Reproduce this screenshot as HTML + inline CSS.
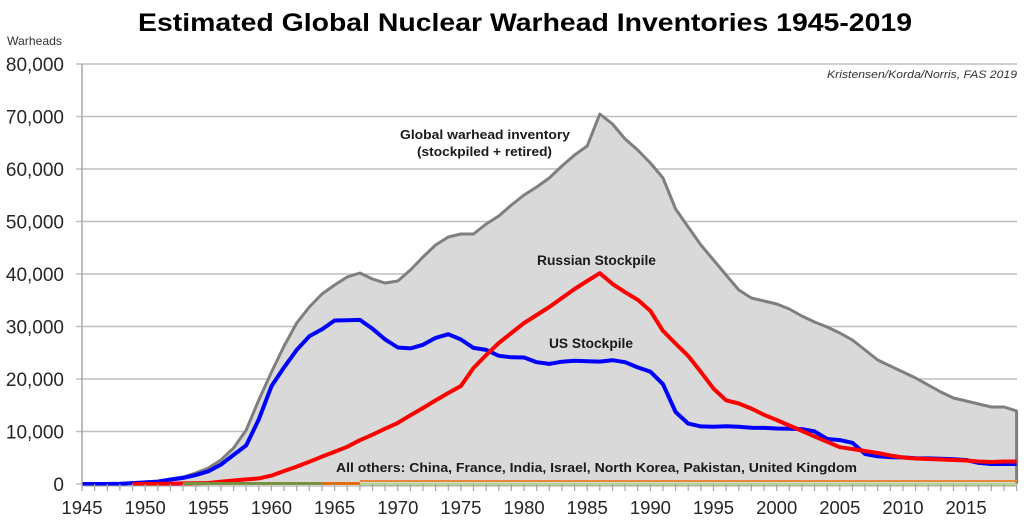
<!DOCTYPE html>
<html><head><meta charset="utf-8">
<style>
html,body{margin:0;padding:0;background:#fff;}
svg{display:block;}
text{font-family:"Liberation Sans",Arial,sans-serif;}
</style></head>
<body>
<svg width="1024" height="522" viewBox="0 0 1024 522" xmlns="http://www.w3.org/2000/svg">
<rect width="1024" height="522" fill="#fff"/>
<!-- title -->
<text x="138" y="31" font-size="25" font-weight="bold" fill="#000" textLength="774" lengthAdjust="spacingAndGlyphs">Estimated Global Nuclear Warhead Inventories 1945-2019</text>
<text x="7" y="45" font-size="12" fill="#333" textLength="55" lengthAdjust="spacingAndGlyphs">Warheads</text>

<!-- gridlines -->
<g stroke="#bfbfbf" stroke-width="1.5">
<line x1="76" y1="431.5" x2="1017" y2="431.5"/>
<line x1="76" y1="379" x2="1017" y2="379"/>
<line x1="76" y1="326.5" x2="1017" y2="326.5"/>
<line x1="76" y1="274" x2="1017" y2="274"/>
<line x1="76" y1="221.5" x2="1017" y2="221.5"/>
<line x1="76" y1="169" x2="1017" y2="169"/>
<line x1="76" y1="116.5" x2="1017" y2="116.5"/>
<line x1="76" y1="64" x2="1017" y2="64"/>
<line x1="76" y1="484" x2="82" y2="484"/>
</g>

<!-- y labels -->
<g font-size="19" fill="#262626" text-anchor="end">
<text x="64" y="491">0</text>
<text x="64" y="438.5">10,000</text>
<text x="64" y="386">20,000</text>
<text x="64" y="333.5">30,000</text>
<text x="64" y="281">40,000</text>
<text x="64" y="228.5">50,000</text>
<text x="64" y="176">60,000</text>
<text x="64" y="123.5">70,000</text>
<text x="64" y="71">80,000</text>
</g>

<!-- global area -->
<polygon fill="#d9d9d9" points="82,484 94.6,484 107.3,484 119.9,483.7 132.5,483 145.2,482 157.8,481 170.4,479 183,477 195.7,473 208.3,468 220.9,460 233.6,448 246.2,430 258.8,400 271.5,372 284.1,346 296.7,323 309.3,307 322,294 334.6,285 347.2,277 359.9,273 372.5,279 385.1,283 397.8,281 410.4,270 423,257 435.6,245 448.3,237 460.9,234 473.5,234 486.2,224 498.8,216 511.4,205 524.1,195 536.7,187 549.3,178 561.9,166 574.6,155 587.2,146 599.8,114 612.5,124 625.1,139 637.7,150 650.4,163 663,178 675.6,209 688.2,227 700.9,245 713.5,260 726.1,275 738.8,290 751.4,298 764,301 776.7,304 789.3,309 801.9,316 814.5,322 827.2,327 839.8,333 852.4,340 865.1,350 877.7,360 890.3,366 903,372 915.6,378 928.2,385 940.8,392 953.5,398 966.1,401 978.7,404 991.4,407 1004,407 1016.6,411 1016.6,484"/>
<polyline fill="none" stroke="#7f7f7f" stroke-width="3" stroke-linejoin="round" points="82,484 94.6,484 107.3,484 119.9,483.7 132.5,483 145.2,482 157.8,481 170.4,479 183,477 195.7,473 208.3,468 220.9,460 233.6,448 246.2,430 258.8,400 271.5,372 284.1,346 296.7,323 309.3,307 322,294 334.6,285 347.2,277 359.9,273 372.5,279 385.1,283 397.8,281 410.4,270 423,257 435.6,245 448.3,237 460.9,234 473.5,234 486.2,224 498.8,216 511.4,205 524.1,195 536.7,187 549.3,178 561.9,166 574.6,155 587.2,146 599.8,114 612.5,124 625.1,139 637.7,150 650.4,163 663,178 675.6,209 688.2,227 700.9,245 713.5,260 726.1,275 738.8,290 751.4,298 764,301 776.7,304 789.3,309 801.9,316 814.5,322 827.2,327 839.8,333 852.4,340 865.1,350 877.7,360 890.3,366 903,372 915.6,378 928.2,385 940.8,392 953.5,398 966.1,401 978.7,404 991.4,407 1004,407 1016.6,411 1016.6,484"/>

<!-- US -->
<polyline fill="none" stroke="#0000ff" stroke-width="4" stroke-linejoin="round" points="82,484 94.6,484 107.3,484 119.9,483.8 132.5,483.1 145.2,482.4 157.8,481.7 170.4,479.6 183,477.9 195.7,475.1 208.3,471.3 220.9,464.6 233.6,454.9 246.2,445.4 258.8,419.4 271.5,386.1 284.1,367.3 296.7,349.9 309.3,336.3 322,329.3 334.6,320.5 347.2,320.3 359.9,319.9 372.5,328.8 385.1,339.4 397.8,347.5 410.4,348.4 423,344.8 435.6,337.9 448.3,334.2 460.9,339.5 473.5,347.9 486.2,349.9 498.8,355.8 511.4,357.3 524.1,357.5 536.7,362.2 549.3,363.9 561.9,361.7 574.6,360.8 587.2,361.3 599.8,361.6 612.5,360.2 625.1,362.2 637.7,367.4 650.4,371.7 663,384.2 675.6,412 688.2,423.6 700.9,426.4 713.5,426.8 726.1,426.2 738.8,426.8 751.4,427.7 764,427.9 776.7,428.5 789.3,428.7 801.9,429.1 814.5,431.4 827.2,439 839.8,440.1 852.4,442.8 865.1,454 877.7,456.3 890.3,457.2 903,457.4 915.6,458.3 928.2,458.4 940.8,458.8 953.5,459.2 966.1,460 978.7,462.9 991.4,464 1004,464 1016.6,464"/>

<!-- Russia -->
<polyline fill="none" stroke="#ff0000" stroke-width="4" stroke-linejoin="round" points="132.5,484 145.2,484 157.8,483.9 170.4,483.7 183,483.4 195.7,483.2 208.3,483 220.9,481.8 233.6,480.5 246.2,479.4 258.8,478.4 271.5,475.6 284.1,471 296.7,466.6 309.3,461.8 322,456.6 334.6,451.8 347.2,446.8 359.9,440.2 372.5,434.7 385.1,428.7 397.8,422.9 410.4,415.3 423,408 435.6,400.4 448.3,393 460.9,386 473.5,368 486.2,355 498.8,343 511.4,333 524.1,323 536.7,315 549.3,307 561.9,298 574.6,289 587.2,281 599.8,273.2 612.5,283.9 625.1,292.2 637.7,299.8 650.4,310.9 663,330.9 675.6,343.6 688.2,355.9 700.9,372 713.5,388.6 726.1,400.3 738.8,403.5 751.4,408.6 764,414.8 776.7,420 789.3,425.5 801.9,430.9 814.5,436.4 827.2,441.8 839.8,447.2 852.4,449 865.1,451 877.7,453 890.3,455.5 903,457.5 915.6,458.5 928.2,459 940.8,459.5 953.5,460 966.1,460.5 978.7,461.5 991.4,462 1004,461.5 1016.6,461.5"/>

<!-- others -->
<line x1="360" y1="484.5" x2="1017" y2="484.5" stroke="#b5d68f" stroke-width="3"/>
<line x1="360" y1="481" x2="1017" y2="481" stroke="#e8883a" stroke-width="2"/>
<line x1="183" y1="483.5" x2="322" y2="483.5" stroke="#76923c" stroke-width="3"/>
<line x1="322" y1="483.5" x2="360" y2="483.5" stroke="#e46c0a" stroke-width="3"/>

<!-- axes -->
<line x1="82" y1="64" x2="82" y2="484" stroke="#a6a6a6" stroke-width="1.5"/>
<line x1="82" y1="486" x2="1017" y2="486" stroke="#a6a6a6" stroke-width="1"/>
<g stroke="#a6a6a6" stroke-width="1.2">
<line x1="82" y1="484" x2="82" y2="491"/><line x1="94.6" y1="484" x2="94.6" y2="491"/><line x1="107.3" y1="484" x2="107.3" y2="491"/><line x1="119.9" y1="484" x2="119.9" y2="491"/><line x1="132.5" y1="484" x2="132.5" y2="491"/>
<line x1="145.2" y1="484" x2="145.2" y2="491"/><line x1="157.8" y1="484" x2="157.8" y2="491"/><line x1="170.4" y1="484" x2="170.4" y2="491"/><line x1="183" y1="484" x2="183" y2="491"/><line x1="195.7" y1="484" x2="195.7" y2="491"/>
<line x1="208.3" y1="484" x2="208.3" y2="491"/><line x1="220.9" y1="484" x2="220.9" y2="491"/><line x1="233.6" y1="484" x2="233.6" y2="491"/><line x1="246.2" y1="484" x2="246.2" y2="491"/><line x1="258.8" y1="484" x2="258.8" y2="491"/>
<line x1="271.5" y1="484" x2="271.5" y2="491"/><line x1="284.1" y1="484" x2="284.1" y2="491"/><line x1="296.7" y1="484" x2="296.7" y2="491"/><line x1="309.3" y1="484" x2="309.3" y2="491"/><line x1="322" y1="484" x2="322" y2="491"/>
<line x1="334.6" y1="484" x2="334.6" y2="491"/><line x1="347.2" y1="484" x2="347.2" y2="491"/><line x1="359.9" y1="484" x2="359.9" y2="491"/><line x1="372.5" y1="484" x2="372.5" y2="491"/><line x1="385.1" y1="484" x2="385.1" y2="491"/>
<line x1="397.8" y1="484" x2="397.8" y2="491"/><line x1="410.4" y1="484" x2="410.4" y2="491"/><line x1="423" y1="484" x2="423" y2="491"/><line x1="435.6" y1="484" x2="435.6" y2="491"/><line x1="448.3" y1="484" x2="448.3" y2="491"/>
<line x1="460.9" y1="484" x2="460.9" y2="491"/><line x1="473.5" y1="484" x2="473.5" y2="491"/><line x1="486.2" y1="484" x2="486.2" y2="491"/><line x1="498.8" y1="484" x2="498.8" y2="491"/><line x1="511.4" y1="484" x2="511.4" y2="491"/>
<line x1="524.1" y1="484" x2="524.1" y2="491"/><line x1="536.7" y1="484" x2="536.7" y2="491"/><line x1="549.3" y1="484" x2="549.3" y2="491"/><line x1="561.9" y1="484" x2="561.9" y2="491"/><line x1="574.6" y1="484" x2="574.6" y2="491"/>
<line x1="587.2" y1="484" x2="587.2" y2="491"/><line x1="599.8" y1="484" x2="599.8" y2="491"/><line x1="612.5" y1="484" x2="612.5" y2="491"/><line x1="625.1" y1="484" x2="625.1" y2="491"/><line x1="637.7" y1="484" x2="637.7" y2="491"/>
<line x1="650.4" y1="484" x2="650.4" y2="491"/><line x1="663" y1="484" x2="663" y2="491"/><line x1="675.6" y1="484" x2="675.6" y2="491"/><line x1="688.2" y1="484" x2="688.2" y2="491"/><line x1="700.9" y1="484" x2="700.9" y2="491"/>
<line x1="713.5" y1="484" x2="713.5" y2="491"/><line x1="726.1" y1="484" x2="726.1" y2="491"/><line x1="738.8" y1="484" x2="738.8" y2="491"/><line x1="751.4" y1="484" x2="751.4" y2="491"/><line x1="764" y1="484" x2="764" y2="491"/>
<line x1="776.7" y1="484" x2="776.7" y2="491"/><line x1="789.3" y1="484" x2="789.3" y2="491"/><line x1="801.9" y1="484" x2="801.9" y2="491"/><line x1="814.5" y1="484" x2="814.5" y2="491"/><line x1="827.2" y1="484" x2="827.2" y2="491"/>
<line x1="839.8" y1="484" x2="839.8" y2="491"/><line x1="852.4" y1="484" x2="852.4" y2="491"/><line x1="865.1" y1="484" x2="865.1" y2="491"/><line x1="877.7" y1="484" x2="877.7" y2="491"/><line x1="890.3" y1="484" x2="890.3" y2="491"/>
<line x1="903" y1="484" x2="903" y2="491"/><line x1="915.6" y1="484" x2="915.6" y2="491"/><line x1="928.2" y1="484" x2="928.2" y2="491"/><line x1="940.8" y1="484" x2="940.8" y2="491"/><line x1="953.5" y1="484" x2="953.5" y2="491"/>
<line x1="966.1" y1="484" x2="966.1" y2="491"/><line x1="978.7" y1="484" x2="978.7" y2="491"/><line x1="991.4" y1="484" x2="991.4" y2="491"/><line x1="1004" y1="484" x2="1004" y2="491"/><line x1="1016.6" y1="484" x2="1016.6" y2="491"/>
</g>

<!-- x labels -->
<g font-size="18.5" fill="#262626" text-anchor="middle">
<text x="82" y="514">1945</text>
<text x="145.2" y="514">1950</text>
<text x="208.3" y="514">1955</text>
<text x="271.5" y="514">1960</text>
<text x="334.6" y="514">1965</text>
<text x="397.8" y="514">1970</text>
<text x="460.9" y="514">1975</text>
<text x="524.1" y="514">1980</text>
<text x="587.2" y="514">1985</text>
<text x="650.4" y="514">1990</text>
<text x="713.5" y="514">1995</text>
<text x="776.7" y="514">2000</text>
<text x="839.8" y="514">2005</text>
<text x="903" y="514">2010</text>
<text x="966.1" y="514">2015</text>
</g>

<!-- annotations -->
<g font-weight="bold" fill="#1a1a1a">
<text x="400" y="139" font-size="13" textLength="170" lengthAdjust="spacingAndGlyphs">Global warhead inventory</text>
<text x="417" y="156" font-size="13" textLength="135" lengthAdjust="spacingAndGlyphs">(stockpiled + retired)</text>
<text x="537" y="265" font-size="13.5" textLength="119" lengthAdjust="spacingAndGlyphs">Russian Stockpile</text>
<text x="549" y="348" font-size="13.5" textLength="84" lengthAdjust="spacingAndGlyphs">US Stockpile</text>
<text x="336" y="472" font-size="12.5" textLength="521" lengthAdjust="spacingAndGlyphs">All others: China, France, India, Israel, North Korea, Pakistan, United Kingdom</text>
</g>
<text x="827" y="78" font-size="11" font-style="italic" fill="#333" textLength="190" lengthAdjust="spacingAndGlyphs">Kristensen/Korda/Norris, FAS 2019</text>
</svg>
</body></html>
